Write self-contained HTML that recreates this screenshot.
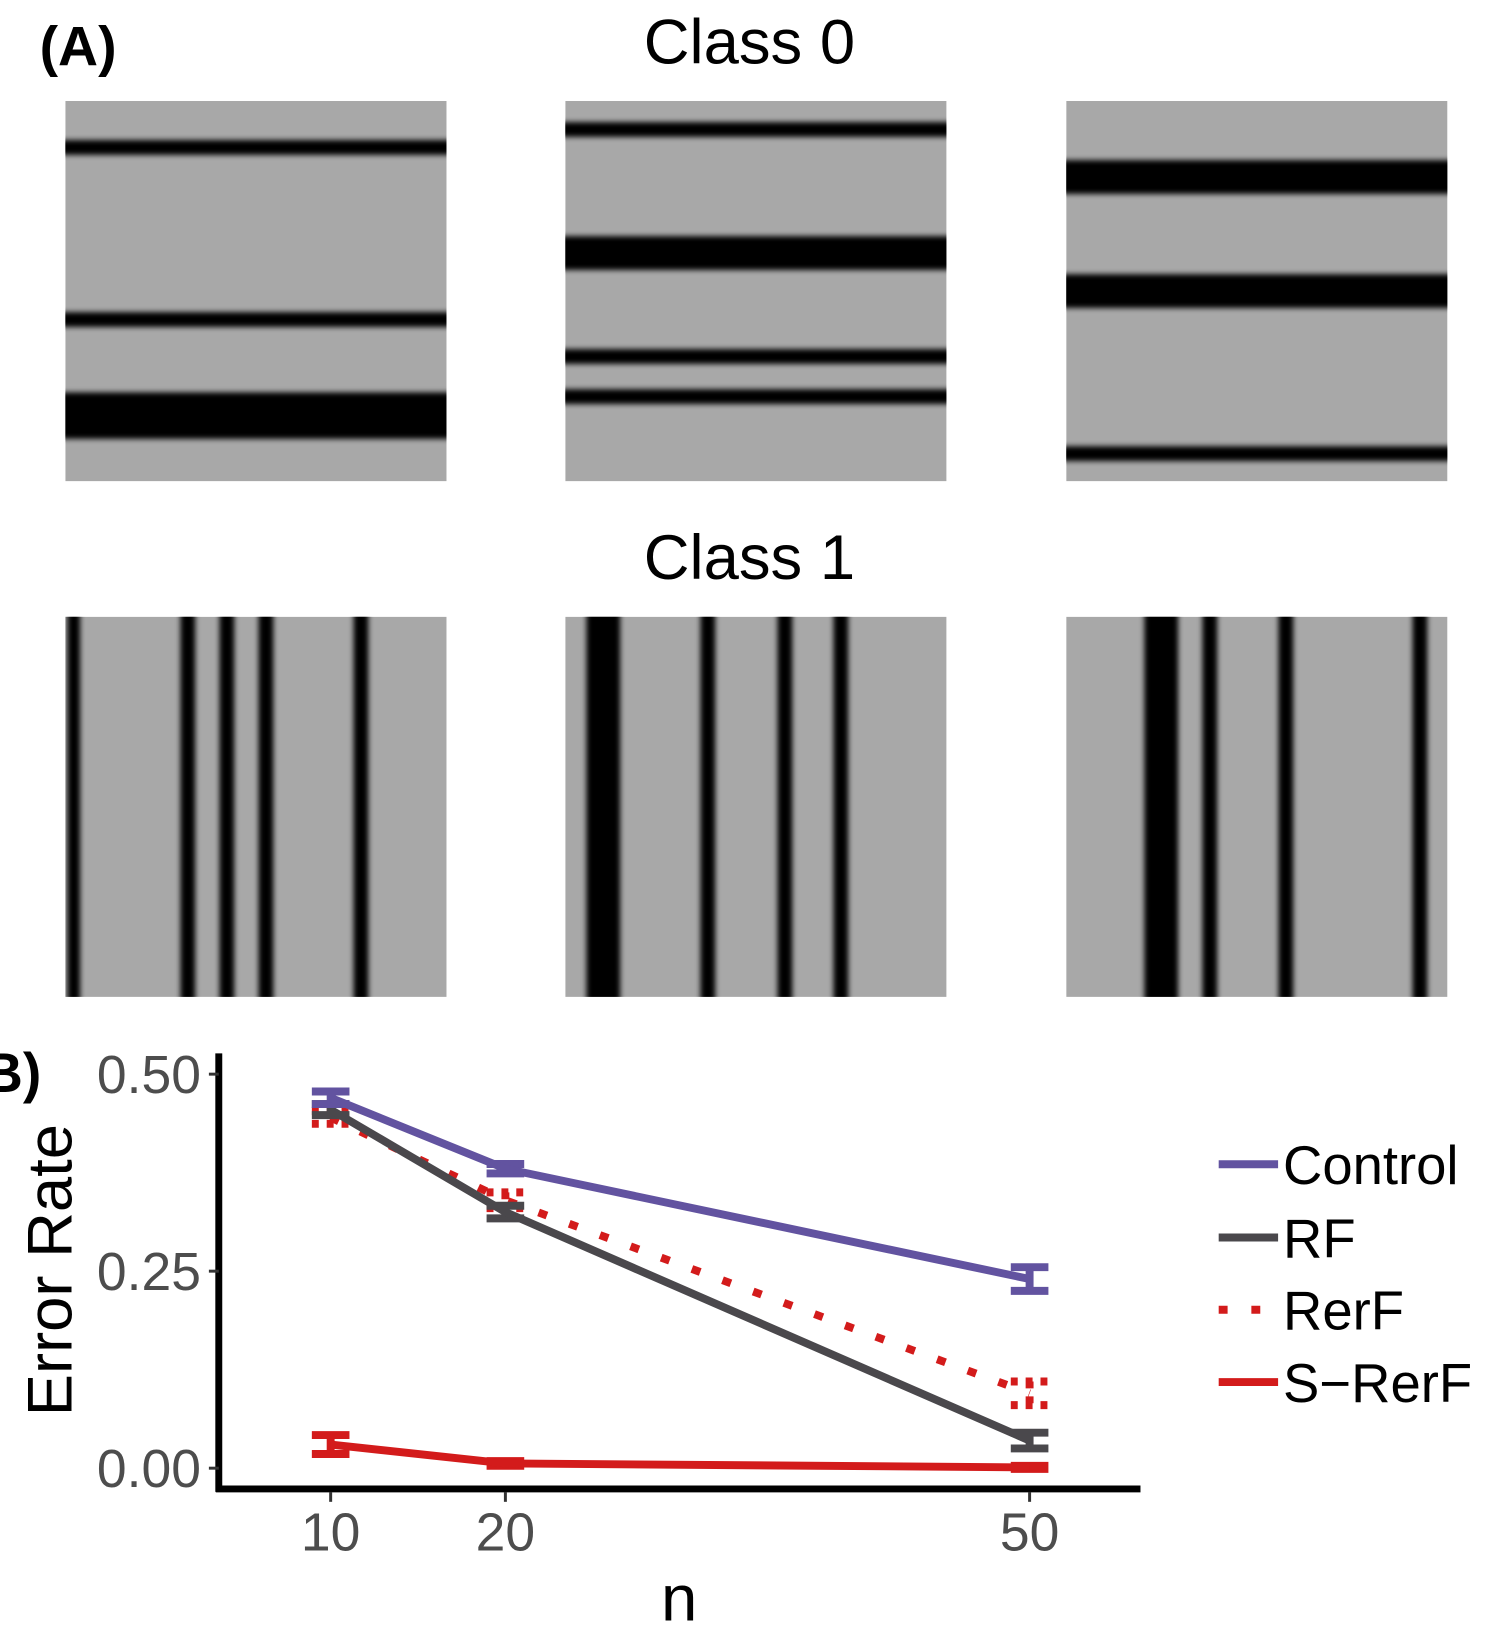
<!DOCTYPE html>
<html><head><meta charset="utf-8"><style>
html,body{margin:0;padding:0;background:#fff;width:1500px;height:1650px;overflow:hidden}
svg text{font-family:"Liberation Sans",sans-serif}
</style></head><body>
<svg id="fig" width="1500" height="1650" viewBox="0 0 1500 1650" xmlns="http://www.w3.org/2000/svg">
<defs><filter id="bl" x="-5%" y="-5%" width="110%" height="110%"><feGaussianBlur stdDeviation="2.8"/></filter>
<clipPath id="c0"><rect x="66" y="102" width="385" height="384"/></clipPath>
<clipPath id="c1"><rect x="571" y="102" width="385" height="384"/></clipPath>
<clipPath id="c2"><rect x="1077" y="102" width="385" height="384"/></clipPath>
<clipPath id="c3"><rect x="66" y="623" width="385" height="384"/></clipPath>
<clipPath id="c4"><rect x="571" y="623" width="385" height="384"/></clipPath>
<clipPath id="c5"><rect x="1077" y="623" width="385" height="384"/></clipPath>
</defs>
<g transform="scale(0.99)">
<text x="40" y="66" font-size="56" font-weight="bold">(A)</text>
<text x="757" y="64" font-size="64" text-anchor="middle">Class 0</text>
<text x="757" y="585" font-size="64" text-anchor="middle">Class 1</text>
<g id="panels"></g>
<text x="-36" y="1103" font-size="56" font-weight="bold">(B)</text>
<g id="chart"></g>
</g>
</svg>
<script>
const rowStripes = [
  [[44,14],[207,14],[298,44]],
  [[27,14],[144,32],[242,14],[280,14]],
  [[72,32],[180,32],[334,14]]
];
const colStripes = [
  [[8,12],[116,14],[153,14],[190,14],[280,14]],
  [[36,32],[135,14],[208,14],[261,14]],
  [[90,32],[136,14],[208,14],[335,14]]
];
const NS='http://www.w3.org/2000/svg';
const panels=document.getElementById('panels');
const px=[66,571,1077], rowY=[102,623], S=385, k=385/361;
function mk(tag,attrs,parent){const e=document.createElementNS(NS,tag);for(const a in attrs)e.setAttribute(a,attrs[a]);parent.appendChild(e);return e;}
[rowStripes,colStripes].forEach((set,r)=>{
  set.forEach((stripes,i)=>{
    const g=mk('g',{'clip-path':'url(#c'+(r*3+i)+')'},panels);
    
    
    mk('rect',{x:px[i],y:rowY[r],width:S,height:S,fill:'#a8a8a8'},g);
    const sg=mk('g',{filter:'url(#bl)'},g);
    stripes.forEach(([c,t])=>{
      if(r===0) mk('rect',{x:px[i]-10,y:rowY[r]+(c-t/2)*k,width:S+20,height:t*k,fill:'#000'},sg);
      else mk('rect',{x:px[i]+(c-t/2)*k,y:rowY[r]-10,width:t*k,height:S+20,fill:'#000'},sg);
    });
  });
});
</script>
<script>
const nVals=[10,20,50];
const controlVals=[0.47,0.38,0.24];
const rfVals=[0.455,0.325,0.035];
const rerfVals=[0.445,0.34,0.095];
const srerfVals=[0.03,0.006,0.001];
const controlErr=[0.008,0.006,0.015];
const rfErr=[0.007,0.008,0.01];
const rerfErr=[0.008,0.01,0.015];
const srerfErr=[0.012,0.003,0.002];
const yTicks=[0,0.25,0.5];
const yTickLabels=['0.00','0.25','0.50'];
const xTicks=[10,20,50];
const legendNames=['Control','RF','RerF','S\u2212RerF'];

const chart=document.getElementById('chart');
const xS=n=>334+(n-10)*(1040-334)/40;
const yS=v=>1483-v*(1483-1085)/0.5;
function el(tag,attrs,parent){const e=document.createElementNS('http://www.w3.org/2000/svg',tag);for(const a in attrs)e.setAttribute(a,attrs[a]);(parent||chart).appendChild(e);return e;}

let ax=el('line',{x1:221,y1:1064,x2:221,y2:1507,stroke:'#000','stroke-width':7});


ax=el('line',{x1:218,y1:1504,x2:1152,y2:1504,stroke:'#000','stroke-width':7});


yTicks.forEach((v,i)=>{
  el('line',{x1:211,y1:yS(v),x2:221,y2:yS(v),stroke:'#333','stroke-width':3});
  const t=el('text',{x:203,y:yS(v)+19,'font-size':54,fill:'#4d4d4d','text-anchor':'end'});
  t.textContent=yTickLabels[i];
  
  
});
xTicks.forEach(n=>{
  el('line',{x1:xS(n),y1:1507,x2:xS(n),y2:1517,stroke:'#333','stroke-width':3});
  const t=el('text',{x:xS(n),y:1566,'font-size':54,fill:'#4d4d4d','text-anchor':'middle'});
  t.textContent=n;
  
  
});
let t=el('text',{x:686,y:1637,'font-size':66,'text-anchor':'middle'});
t.textContent='n';


t=el('text',{x:0,y:0,'font-size':64,'text-anchor':'middle',transform:'translate(72,1283) rotate(-90)'});
t.textContent='Error Rate';



const series=[
  {name:'srerf',vals:srerfVals,err:srerfErr,color:'#d31b1b',dash:null},
  {name:'rerf',vals:rerfVals,err:rerfErr,color:'#d31b1b',dash:'9 24'},
  {name:'rf',vals:rfVals,err:rfErr,color:'#4a484c',dash:null},
  {name:'control',vals:controlVals,err:controlErr,color:'#6253a0',dash:null}
];
series.forEach(s=>{
  const g=el('g',{});
  
  
  nVals.forEach((n,i)=>{
    const x=xS(n),lo=yS(s.vals[i]-s.err[i]),hi=yS(s.vals[i]+s.err[i]);
    const a={stroke:s.color,'stroke-width':8,fill:'none'};
    if(s.dash)a['stroke-dasharray']='7 8';
    el('path',Object.assign({d:`M${x-19},${hi}H${x+19}M${x},${hi}V${lo}M${x-19},${lo}H${x+19}`},a),g);
  });
  const pts=nVals.map((n,i)=>xS(n)+','+yS(s.vals[i])).join(' ');
  const a={points:pts,stroke:s.color,'stroke-width':8,fill:'none'};
  if(s.dash)a['stroke-dasharray']=s.dash;
  const pl=el('polyline',a,g);
  
  
});

const legColors=['#6253a0','#4a484c','#d31b1b','#d31b1b'];
const legY=[1176,1250,1323,1396];
legendNames.forEach((nm,i)=>{
  const g=el('g',{});
  
  
  const a={x1:1231,y1:legY[i],x2:1291,y2:legY[i],stroke:legColors[i],'stroke-width':8};
  if(i===2)a['stroke-dasharray']='9 24';
  el('line',a,g);
  const tx=el('text',{x:1296,y:legY[i]+20,'font-size':55},g);
  tx.textContent=nm;
});
</script>
</body></html>
